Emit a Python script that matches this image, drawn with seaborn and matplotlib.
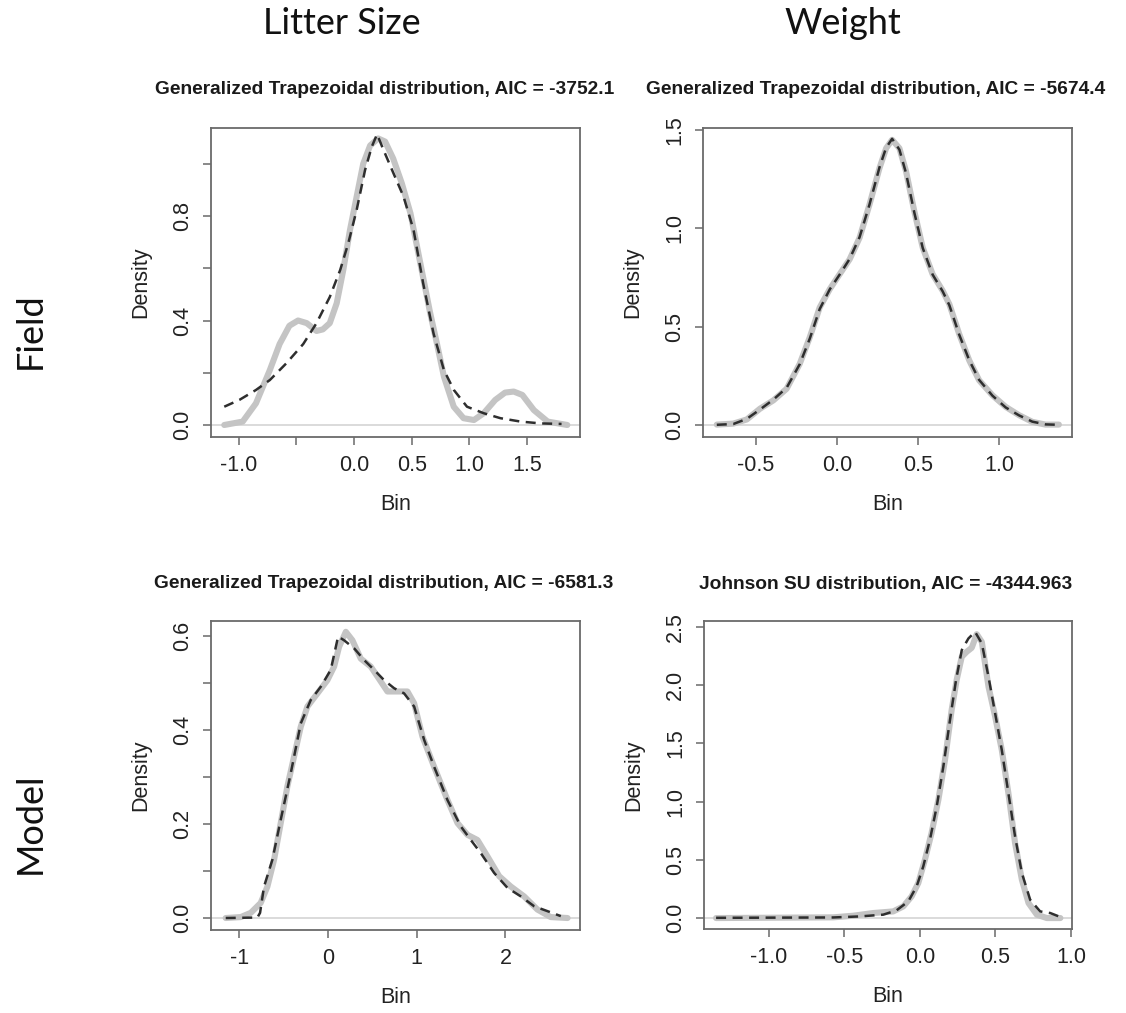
import numpy as np
import pandas as pd
import matplotlib
matplotlib.use("Agg")
import matplotlib.pyplot as plt
import seaborn as sns

# ---------------- data ----------------
# Field / Litter Size
fl_kde_x = [-1.125, -0.965, -0.85, -0.73, -0.645, -0.56, -0.485, -0.41, -0.325, -0.27, -0.21, -0.15,
            -0.093, -0.035, 0.023, 0.08, 0.14, 0.21, 0.27, 0.34, 0.415, 0.49, 0.575, 0.66, 0.72, 0.78,
            0.865, 0.95, 1.04, 1.125, 1.225, 1.31, 1.385, 1.46, 1.56, 1.68, 1.85]
fl_kde_y = [0.0, 0.013, 0.083, 0.21, 0.31, 0.38, 0.40, 0.39, 0.36, 0.366, 0.39, 0.466,
            0.593, 0.746, 0.874, 1.0, 1.07, 1.097, 1.085, 1.02, 0.925, 0.81, 0.62, 0.43, 0.31, 0.185,
            0.07, 0.026, 0.019, 0.045, 0.096, 0.124, 0.128, 0.115, 0.057, 0.013, 0.0]
fl_fit_x = [-1.125, -0.994, -0.85, -0.73, -0.587, -0.44, -0.325, -0.21, -0.12, -0.05, 0.023, 0.096,
            0.154, 0.2, 0.256, 0.343, 0.43, 0.517, 0.6, 0.69, 0.78, 0.866, 0.98, 1.125, 1.27, 1.445,
            1.62, 1.8]
fl_fit_y = [0.07, 0.096, 0.134, 0.172, 0.236, 0.31, 0.39, 0.49, 0.593, 0.695, 0.823, 0.976,
            1.065, 1.113, 1.053, 0.963, 0.874, 0.746, 0.542, 0.35, 0.21, 0.134, 0.07, 0.045, 0.026, 0.013,
            0.006, 0.004]

# Field / Weight
fw_kde_x = [-0.742, -0.64, -0.557, -0.475, -0.393, -0.311, -0.23, -0.168, -0.107, -0.045, 0.016, 0.078,
            0.139, 0.2, 0.262, 0.303, 0.34, 0.385, 0.426, 0.477, 0.529, 0.59, 0.652, 0.693, 0.754, 0.816,
            0.877, 0.959, 1.041, 1.123, 1.205, 1.287, 1.369]
fw_kde_y = [0.003, 0.008, 0.029, 0.084, 0.126, 0.185, 0.312, 0.447, 0.598, 0.691, 0.767, 0.843,
            0.952, 1.12, 1.306, 1.407, 1.45, 1.407, 1.29, 1.087, 0.902, 0.767, 0.683, 0.615, 0.463, 0.329,
            0.228, 0.152, 0.093, 0.051, 0.017, 0.003, 0.003]
fw_fit_x = [-0.742, -0.64, -0.557, -0.475, -0.393, -0.311, -0.23, -0.168, -0.107, -0.045, 0.016, 0.078,
            0.139, 0.2, 0.262, 0.303, 0.34, 0.385, 0.426, 0.477, 0.529, 0.59, 0.652, 0.693, 0.754, 0.816,
            0.877, 0.959, 1.041, 1.123, 1.205, 1.287, 1.369]
fw_fit_y = [0.002, 0.006, 0.032, 0.08, 0.13, 0.19, 0.31, 0.44, 0.59, 0.69, 0.765, 0.845,
            0.955, 1.12, 1.31, 1.41, 1.455, 1.40, 1.28, 1.08, 0.90, 0.765, 0.68, 0.61, 0.46, 0.33,
            0.23, 0.15, 0.09, 0.05, 0.018, 0.004, 0.002]

# Model / Litter Size
ml_kde_x = [-1.154, -0.985, -0.872, -0.76, -0.684, -0.609, -0.534, -0.459, -0.383, -0.308, -0.233, -0.12,
            -0.008, 0.068, 0.124, 0.2, 0.274, 0.368, 0.481, 0.556, 0.669, 0.782, 0.895, 0.97, 1.064, 1.195,
            1.346, 1.459, 1.571, 1.684, 1.797, 1.929, 2.06, 2.21, 2.36, 2.51, 2.7]
ml_kde_y = [0.0, 0.002, 0.011, 0.032, 0.067, 0.124, 0.202, 0.28, 0.344, 0.407, 0.45, 0.478,
            0.506, 0.535, 0.577, 0.609, 0.591, 0.552, 0.535, 0.514, 0.482, 0.482, 0.482, 0.457, 0.386, 0.322,
            0.251, 0.202, 0.177, 0.166, 0.131, 0.089, 0.067, 0.046, 0.018, 0.002, 0.0]
ml_fit_x = [-1.154, -0.797, -0.767, -0.722, -0.628, -0.534, -0.421, -0.308, -0.195, -0.083, 0.03, 0.113,
            0.18, 0.293, 0.406, 0.519, 0.632, 0.744, 0.857, 0.97, 1.083, 1.195, 1.346, 1.496, 1.609, 1.722,
            1.872, 2.023, 2.173, 2.323, 2.511, 2.624]
ml_fit_y = [0.0, 0.001, 0.011, 0.067, 0.124, 0.209, 0.308, 0.414, 0.464, 0.492, 0.528, 0.599,
            0.591, 0.574, 0.549, 0.528, 0.506, 0.489, 0.478, 0.45, 0.379, 0.322, 0.251, 0.195, 0.166, 0.138,
            0.096, 0.064, 0.046, 0.025, 0.012, 0.004]

# Model / Weight
mw_kde_x = [-1.35, -0.575, -0.442, -0.31, -0.177, -0.11, -0.055, -0.011, 0.033, 0.077, 0.122, 0.166,
            0.21, 0.243, 0.277, 0.31, 0.343, 0.376, 0.41, 0.454, 0.498, 0.542, 0.586, 0.63, 0.675, 0.719,
            0.774, 0.84, 0.93]
mw_kde_y = [0.0, 0.006, 0.02, 0.043, 0.057, 0.1, 0.186, 0.3, 0.5, 0.73, 1.014, 1.357,
            1.786, 2.043, 2.243, 2.286, 2.32, 2.437, 2.37, 1.986, 1.73, 1.443, 1.07, 0.643, 0.329, 0.129,
            0.029, 0.0, 0.0]
mw_fit_x = [-1.35, -0.575, -0.398, -0.243, -0.155, -0.077, -0.022, 0.022, 0.066, 0.111, 0.155, 0.199,
            0.239, 0.277, 0.321, 0.365, 0.41, 0.454, 0.498, 0.542, 0.586, 0.63, 0.675, 0.73, 0.796, 0.863,
            0.93]
mw_fit_y = [0.002, 0.005, 0.014, 0.029, 0.066, 0.143, 0.271, 0.443, 0.671, 0.957, 1.3, 1.7,
            2.043, 2.3, 2.4, 2.457, 2.357, 2.071, 1.757, 1.443, 1.07, 0.7, 0.386, 0.157, 0.057, 0.043,
            0.009]

titles = ["Generalized Trapezoidal distribution, AIC = -3752.1",
          "Generalized Trapezoidal distribution, AIC = -5674.4",
          "Generalized Trapezoidal distribution, AIC = -6581.3",
          "Johnson SU distribution, AIC = -4344.963"]
col_labels = ["Litter Size", "Weight"]
row_labels = ["Field", "Model"]

# ---------------- styling ----------------
sns.set_style("white")
plt.rcParams["font.family"] = ["Liberation Sans", "DejaVu Sans"]

W, H = 1126, 1013
fig = plt.figure(figsize=(W / 100, H / 100), dpi=100)

def px_axes(x0, y0, x1, y1):
    return fig.add_axes([x0 / W, 1 - y1 / H, (x1 - x0) / W, (y1 - y0) / H])

panels = [
    dict(box=(211, 128, 580, 437), kde=(fl_kde_x, fl_kde_y), fit=(fl_fit_x, fl_fit_y),
         xlim=(-1.24, 1.96), ylim=(-0.046, 1.137),
         xt=[-1.0, -0.5, 0.0, 0.5, 1.0, 1.5], xtl=["-1.0", "", "0.0", "0.5", "1.0", "1.5"],
         yt=[0.0, 0.2, 0.4, 0.6, 0.8, 1.0], ytl=["0.0", "", "0.4", "", "0.8", ""]),
    dict(box=(703, 128, 1072, 437), kde=(fw_kde_x, fw_kde_y), fit=(fw_fit_x, fw_fit_y),
         xlim=(-0.827, 1.45), ylim=(-0.06, 1.51),
         xt=[-0.5, 0.0, 0.5, 1.0], xtl=["-0.5", "0.0", "0.5", "1.0"],
         yt=[0.0, 0.5, 1.0, 1.5], ytl=["0.0", "0.5", "1.0", "1.5"]),
    dict(box=(211, 621, 580, 930), kde=(ml_kde_x, ml_kde_y), fit=(ml_fit_x, ml_fit_y),
         xlim=(-1.32, 2.84), ylim=(-0.0255, 0.632),
         xt=[-1, 0, 1, 2], xtl=["-1", "0", "1", "2"],
         yt=[0.0, 0.1, 0.2, 0.3, 0.4, 0.5, 0.6], ytl=["0.0", "", "0.2", "", "0.4", "", "0.6"]),
    dict(box=(704, 621, 1072, 929), kde=(mw_kde_x, mw_kde_y), fit=(mw_fit_x, mw_fit_y),
         xlim=(-1.43, 1.007), ylim=(-0.094, 2.55),
         xt=[-1.0, -0.5, 0.0, 0.5, 1.0], xtl=["-1.0", "-0.5", "0.0", "0.5", "1.0"],
         yt=[0.0, 0.5, 1.0, 1.5, 2.0, 2.5], ytl=["0.0", "0.5", "1.0", "1.5", "2.0", "2.5"]),
]

frame_col = "#6a6a6a"
for p in panels:
    ax = px_axes(*p["box"])
    ax.axhline(0, color="#d8d8d8", lw=1.3, zorder=1)
    kx, ky = p["kde"]
    fx, fy = p["fit"]
    sns.lineplot(x=kx, y=ky, ax=ax, color="#c4c4c4", lw=4.4, estimator=None, sort=False,
                 solid_capstyle="round", solid_joinstyle="round", zorder=2)
    sns.lineplot(x=fx, y=fy, ax=ax, color="#2e2e2e", lw=1.8, estimator=None, sort=False,
                 zorder=3).lines[-1].set_dashes((4.0, 2.6))
    ax.set_xlim(*p["xlim"])
    ax.set_ylim(*p["ylim"])
    ax.set_xticks(p["xt"])
    ax.set_xticklabels(p["xtl"])
    ax.set_yticks(p["yt"])
    ax.set_yticklabels(p["ytl"], rotation=90, va="center")
    for s in ax.spines.values():
        s.set_color(frame_col)
        s.set_linewidth(1.3)
    ax.tick_params(axis="both", which="major", direction="out", length=6, width=1.1,
                   color=frame_col, labelsize=15.5, labelcolor="#222222", pad=7,
                   bottom=True, left=True)
    ax.set_xlabel("Bin", fontsize=15.5, color="#222222", labelpad=13)
    ax.set_ylabel("Density", fontsize=15.5, color="#222222", labelpad=15)
    ax.grid(False)

# titles (bold) placed at their pixel centres
title_pos = [(385, 90), (876, 90), (384, 584), (886, 585)]
for t, (cx, cy) in zip(titles, title_pos):
    fig.text(cx / W, 1 - cy / H, t, ha="center", va="center", fontsize=13.8,
             fontweight="bold", color="#1a1a1a")

# column and row headers
hdr_font = ["Lato", "DejaVu Sans"]
for lab, cx in zip(col_labels, [342, 843]):
    fig.text(cx / W, 1 - 24 / H, lab, ha="center", va="center", fontsize=26,
             family=hdr_font, color="#111111")
for lab, cy in zip(row_labels, [331, 823]):
    fig.text(30 / W, 1 - cy / H, lab, ha="center", va="center", fontsize=26,
             family=hdr_font, rotation=90, color="#111111")

fig.savefig("out.png", dpi=100, facecolor="white")
